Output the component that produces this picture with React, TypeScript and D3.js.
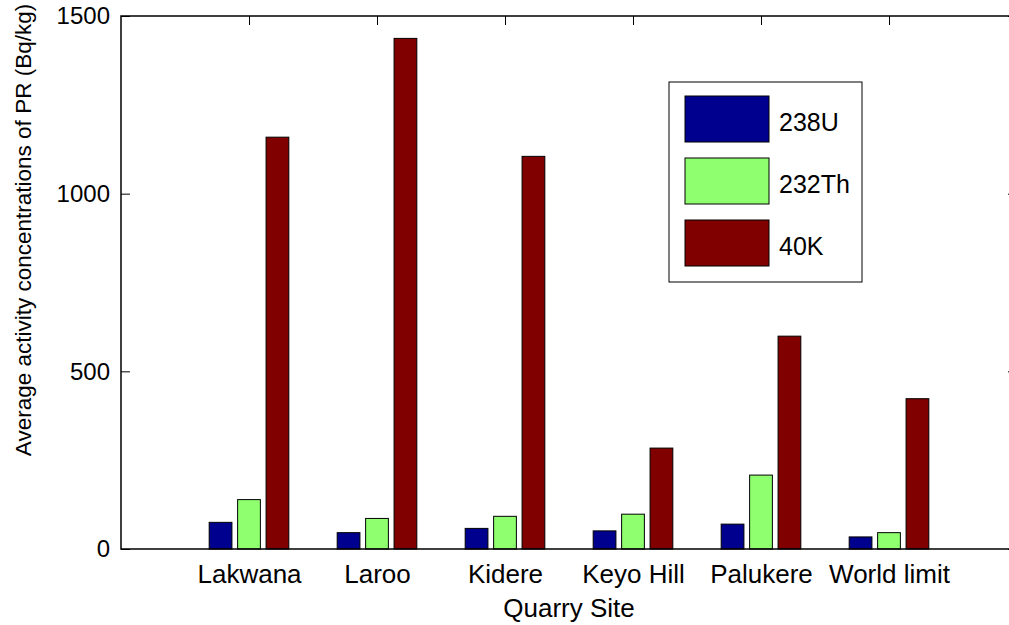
import { useEffect, useRef } from "react";
import * as d3 from "d3";

const SITES = ["Lakwana", "Laroo", "Kidere", "Keyo Hill", "Palukere", "World limit"];
const SERIES = ["238U", "232Th", "40K"];
const U238 = [75, 46, 58, 51, 70, 34];
const TH232 = [139, 86, 92, 98, 208, 46];
const K40 = [1159, 1437, 1105, 284, 599, 423];
const Y_TICKS = [0, 500, 1000, 1500];

const COLORS = ["#00008F", "#8FFF70", "#800000"];
const FONT = "'Liberation Sans', Arial, sans-serif";

export default function App() {
  const ref = useRef<SVGSVGElement>(null);
  useEffect(() => {
    const el = ref.current;
    if (!el) return;
    const W = 1009, H = 625;
    const M = { top: 16, left: 121, right: 1017, bottom: 549 };
    const svg = d3.select(el).attr("width", W).attr("height", H).attr("viewBox", `0 0 ${W} ${H}`);
    svg.selectAll("*").remove();

    const x = d3.scaleLinear().domain([0, SITES.length + 1]).range([M.left, M.right]);
    const y = d3.scaleLinear().domain([0, 1500]).range([M.bottom, M.top]);
    const unit = x(1) - x(0);
    const inner = d3.scaleBand<string>().domain(SERIES).range([-unit / 3, unit / 3]).paddingInner(0.2).paddingOuter(0.1);
    const pos = SITES.map((_d, i) => i + 1);

    // axes (ticks point inward)
    const style = (g: d3.Selection<SVGGElement, unknown, null, undefined>) => {
      g.select(".domain").remove();
      g.selectAll("line").attr("stroke", "#000").attr("stroke-width", 1);
      g.selectAll("text").attr("fill", "#000").attr("font-family", FONT);
    };
    svg.append("g").attr("transform", `translate(${M.left},0)`)
      .call(d3.axisLeft(y).tickValues(Y_TICKS).tickSizeInner(-9).tickSizeOuter(0).tickPadding(11).tickFormat(d3.format("d")))
      .call(style).selectAll("text").attr("font-size", 24);
    svg.append("g").attr("transform", `translate(${M.right},0)`)
      .call(d3.axisRight(y).tickValues(Y_TICKS).tickSizeInner(-9).tickSizeOuter(0).tickFormat(() => ""))
      .call(style);
    svg.append("g").attr("transform", `translate(0,${M.top})`)
      .call(d3.axisTop(x).tickValues(pos).tickSizeInner(-9).tickSizeOuter(0).tickFormat(() => ""))
      .call(style);
    svg.append("g").attr("transform", `translate(0,${M.bottom})`)
      .call(d3.axisBottom(x).tickValues(pos).tickSizeInner(-9).tickSizeOuter(0).tickPadding(16)
        .tickFormat((d) => SITES[(d as number) - 1]))
      .call(style).selectAll("text").attr("font-size", 26);

    // bars
    const cols = [U238, TH232, K40];
    SERIES.forEach((s, si) => {
      svg.append("g").selectAll("rect").data(cols[si]).join("rect")
        .attr("x", (_d, i) => x(i + 1) + (inner(s) ?? 0))
        .attr("width", inner.bandwidth())
        .attr("y", (d) => y(d)).attr("height", (d) => y(0) - y(d))
        .attr("fill", COLORS[si]).attr("stroke", "#000").attr("stroke-width", 1);
    });

    // frame
    svg.append("rect").attr("x", M.left).attr("y", M.top).attr("width", M.right - M.left).attr("height", M.bottom - M.top)
      .attr("fill", "none").attr("stroke", "#000").attr("stroke-width", 1.5);

    // labels
    svg.append("text").attr("x", (M.left + M.right) / 2).attr("y", 617).attr("text-anchor", "middle")
      .attr("font-family", FONT).attr("font-size", 26).text("Quarry Site");
    svg.append("text").attr("transform", "translate(31,230) rotate(-90)").attr("text-anchor", "middle")
      .attr("font-family", FONT).attr("font-size", 22.5).text("Average activity concentrations of PR (Bq/kg)");

    // legend
    const lg = svg.append("g");
    lg.append("rect").attr("x", 669).attr("y", 82).attr("width", 193).attr("height", 200)
      .attr("fill", "#fff").attr("stroke", "#000").attr("stroke-width", 1);
    SERIES.forEach((s, i) => {
      const top = 96 + i * 62;
      lg.append("rect").attr("x", 685).attr("y", top).attr("width", 84).attr("height", 46)
        .attr("fill", COLORS[i]).attr("stroke", "#000").attr("stroke-width", 1);
      lg.append("text").attr("x", 779).attr("y", top + 35).attr("font-family", FONT).attr("font-size", 25).text(s);
    });
  }, []);
  return <svg ref={ref} style={{ position: "absolute", left: 0, top: 0, background: "#fff" }} />;
}
